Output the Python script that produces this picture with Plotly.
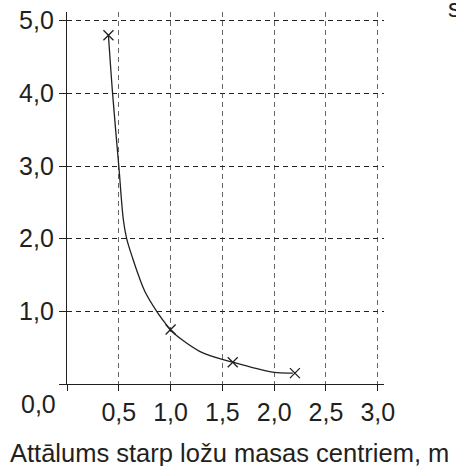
import plotly.graph_objects as go

# measured points (distance m, value)
point_x = [0.4, 1.0, 1.6, 2.2]
point_y = [4.8, 0.75, 0.3, 0.15]

# smooth hand-drawn curve
curve_x = [0.40, 0.44, 0.50, 0.545, 0.576, 0.634, 0.689, 0.753, 0.866, 0.962, 1.00, 1.28, 1.60, 2.00, 2.18]
curve_y = [4.80, 4.00, 3.00, 2.25, 2.00, 1.73, 1.50, 1.27, 1.00, 0.81, 0.74, 0.45, 0.30, 0.16, 0.15]

x_ticks = [0, 0.5, 1.0, 1.5, 2.0, 2.5, 3.0]
x_labels = ["", "0,5", "1,0", "1,5", "2,0", "2,5", "3,0"]
y_ticks = [0, 1, 2, 3, 4, 5]
y_labels = ["", "1,0", "2,0", "3,0", "4,0", "5,0"]

x_title = "Attālums starp ložu masas centriem, m"

INK = "#231f20"
FONT = "Liberation Sans, Arial, sans-serif"

fig = go.Figure()
fig.add_trace(go.Scatter(x=curve_x, y=curve_y, mode="lines",
                         line=dict(color=INK, width=1.3, shape="spline", smoothing=1.0),
                         hoverinfo="skip", showlegend=False))
fig.add_trace(go.Scatter(x=point_x, y=point_y, mode="markers",
                         marker=dict(symbol="x-thin", size=10, line=dict(color=INK, width=1.3)),
                         showlegend=False))

L, T, W, H = 67, 12, 317, 372
fig.update_layout(
    width=456, height=466,
    margin=dict(l=L, r=456 - L - W, t=T, b=466 - T - H, pad=0, autoexpand=False),
    paper_bgcolor="white", plot_bgcolor="white",
    font=dict(family=FONT, size=25, color=INK),
    xaxis=dict(range=[0, 3.06], tickvals=x_ticks, ticktext=x_labels, automargin=False,
               showgrid=True, gridcolor="#666666", gridwidth=1, griddash="5px,4px",
               showline=True, linecolor=INK, linewidth=1.3,
               ticks="outside", ticklen=6, tickcolor=INK, tickwidth=1.3,
               zeroline=False, fixedrange=True),
    yaxis=dict(range=[0, 5.12], tickvals=y_ticks, ticktext=y_labels, automargin=False,
               showgrid=True, gridcolor="#222222", gridwidth=1, griddash="5px,4px",
               showline=True, linecolor=INK, linewidth=1.3,
               ticks="outside", ticklen=7, tickcolor=INK, tickwidth=1.3,
               zeroline=False, fixedrange=True),
    annotations=[
        dict(text="0,0", xref="paper", yref="paper", x=(38 - L) / W, y=(T + H - 404) / H,
             xanchor="center", yanchor="middle", showarrow=False,
             font=dict(family=FONT, size=25, color=INK)),
        dict(text=x_title, xref="paper", yref="paper", x=(229 - L) / W, y=(T + H - 453) / H,
             xanchor="center", yanchor="middle", showarrow=False,
             font=dict(family=FONT, size=25.5, color=INK)),
        dict(text="s", xref="paper", yref="paper", x=(446 - L) / W, y=(T + H - 8) / H,
             xanchor="left", yanchor="middle", showarrow=False,
             font=dict(family=FONT, size=25, color=INK)),
    ],
)

fig.write_html("out.html", config={"displayModeBar": False},
               post_script="document.body.style.margin='0';document.body.style.overflow='hidden';")
